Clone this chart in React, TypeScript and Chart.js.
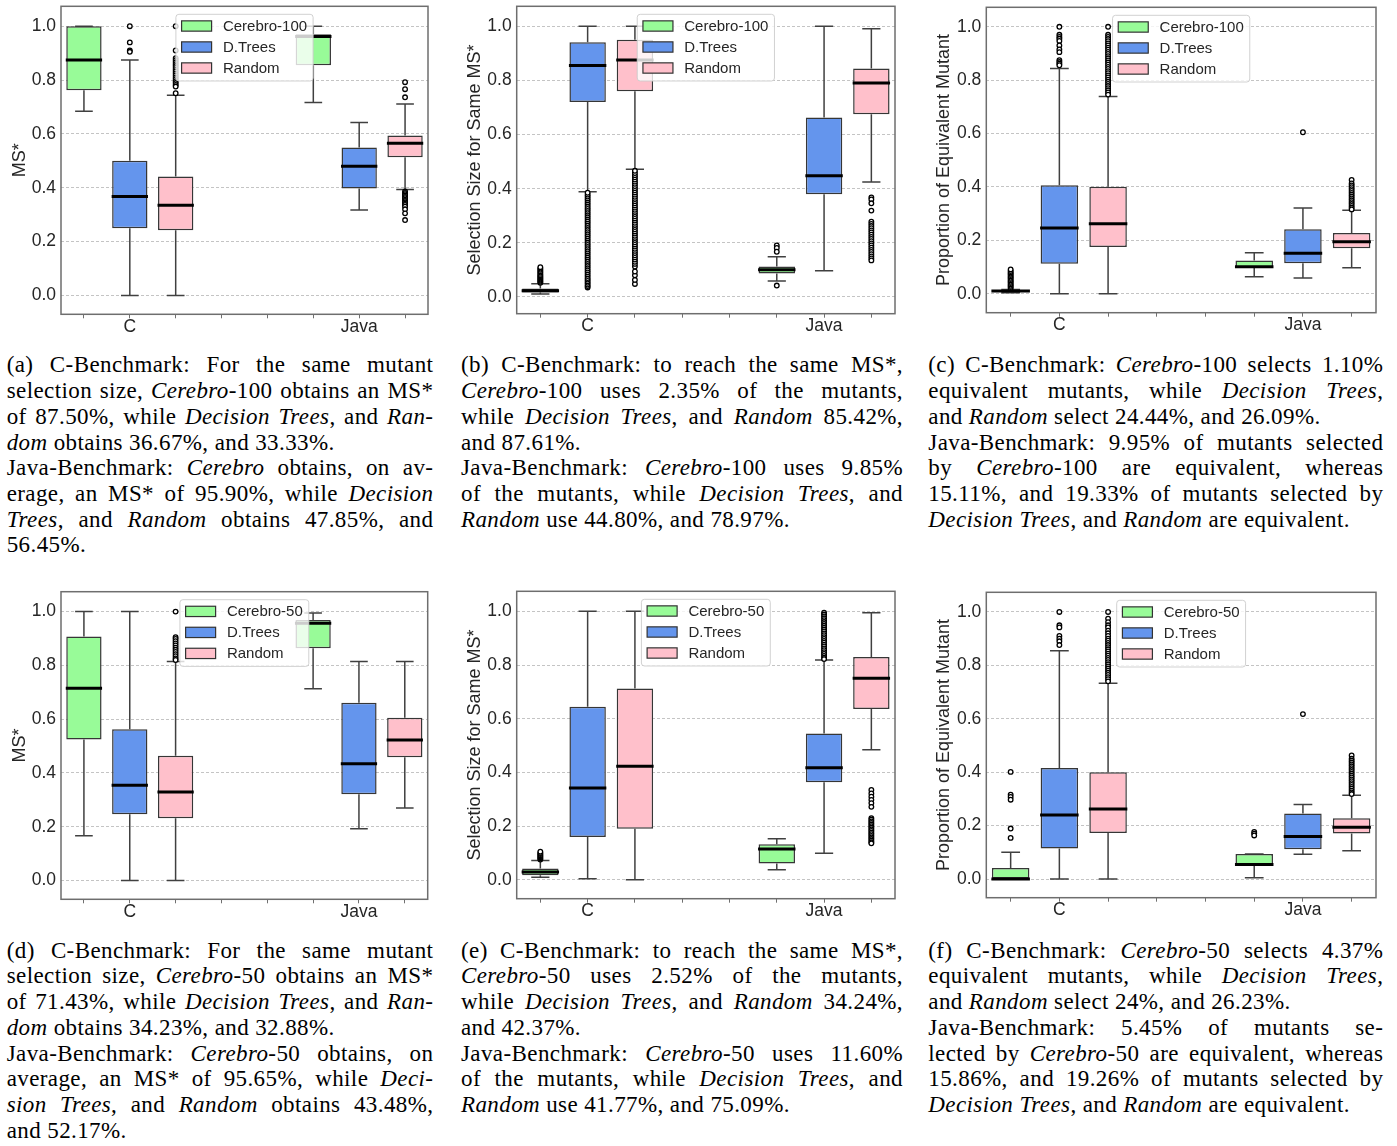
import React, { useEffect, useRef } from 'react';
import { Chart, registerables } from 'chart.js';

Chart.register(...registerables);
Chart.defaults.font.family = '"Liberation Sans", Arial, sans-serif';

// ---------- shared axes / categories ----------
const BOX_POSITIONS = [0, 1, 2, 5, 6, 7]; // C: Cerebro, D.Trees, Random | Java: Cerebro, D.Trees, Random
const X_TICK_POSITIONS = [0, 1, 2, 3, 4, 5, 6, 7];
const GROUP_LABELS = ['C', 'Java'];
const GROUP_TICK_POSITIONS = [1, 6];
const Y_TICKS = [0, 0.2, 0.4, 0.6, 0.8, 1.0];
const SERIES_100 = ['Cerebro-100', 'D.Trees', 'Random'];
const SERIES_50 = ['Cerebro-50', 'D.Trees', 'Random'];

// ---------- (a) MS*, Cerebro-100 ----------
const A_LOW = [0.684, 0.0, 0.0, 0.717, 0.317, 0.394];
const A_Q1 = [0.762, 0.25, 0.242, 0.855, 0.397, 0.513];
const A_MED = [0.875, 0.368, 0.335, 0.962, 0.48, 0.565];
const A_Q3 = [1.0, 0.5, 0.442, 0.97, 0.55, 0.594];
const A_HIGH = [1.0, 0.875, 0.744, 1.0, 0.642, 0.711];
const A_OUT = [
  [],
  [1.0, 0.94, 0.91, 0.905],
  [1.0, 0.91, 0.881, 0.874, 0.866, 0.859, 0.852, 0.845, 0.838, 0.831, 0.824, 0.817, 0.81, 0.803, 0.796, 0.789, 0.782, 0.776, 0.751],
  [],
  [],
  [0.792, 0.766, 0.736, 0.386, 0.381, 0.376, 0.371, 0.366, 0.361, 0.356, 0.351, 0.346, 0.341, 0.336, 0.33, 0.32, 0.305, 0.28],
];
const A_Y_RANGE = [-0.07, 1.074];

// ---------- (b) Selection size, Cerebro-100 ----------
const B_LOW = [0.011, 0.389, 0.472, 0.059, 0.097, 0.425];
const B_Q1 = [0.016, 0.72, 0.76, 0.087, 0.379, 0.675];
const B_MED = [0.023, 0.855, 0.876, 0.1, 0.448, 0.791];
const B_Q3 = [0.031, 0.941, 0.95, 0.112, 0.663, 0.844];
const B_HIGH = [0.049, 1.0, 1.0, 0.148, 1.0, 0.991];
const B_OUT = [
  [0.052, 0.056, 0.06, 0.064, 0.068, 0.072, 0.076, 0.08, 0.085, 0.09, 0.095, 0.1, 0.105, 0.11],
  [0.035, 0.04, 0.046, 0.052, 0.058, 0.064, 0.07, 0.077, 0.084, 0.091, 0.098, 0.105, 0.112, 0.119, 0.126, 0.133, 0.14, 0.147, 0.154, 0.161, 0.168, 0.175, 0.182, 0.189, 0.196, 0.203, 0.21, 0.217, 0.224, 0.231, 0.238, 0.245, 0.252, 0.259, 0.266, 0.273, 0.28, 0.287, 0.294, 0.301, 0.308, 0.315, 0.322, 0.329, 0.336, 0.343, 0.35, 0.357, 0.364, 0.371, 0.378, 0.385],
  [0.048, 0.063, 0.08, 0.094, 0.112, 0.122, 0.13, 0.138, 0.146, 0.154, 0.162, 0.17, 0.178, 0.186, 0.194, 0.202, 0.21, 0.218, 0.226, 0.234, 0.242, 0.25, 0.258, 0.266, 0.274, 0.282, 0.29, 0.298, 0.306, 0.314, 0.322, 0.33, 0.338, 0.346, 0.354, 0.362, 0.37, 0.378, 0.386, 0.394, 0.402, 0.41, 0.418, 0.426, 0.434, 0.442, 0.45, 0.458, 0.466],
  [0.19, 0.181, 0.167, 0.042],
  [],
  [0.368, 0.36, 0.346, 0.319, 0.278, 0.27, 0.262, 0.254, 0.246, 0.238, 0.23, 0.222, 0.214, 0.206, 0.198, 0.19, 0.182, 0.174, 0.166, 0.158, 0.15, 0.142, 0.135],
];
const B_Y_RANGE = [-0.062, 1.074];

// ---------- (c) Equivalent mutants, Cerebro-100 ----------
const C_LOW = [0.004, 0.0, 0.0, 0.064, 0.059, 0.097];
const C_Q1 = [0.007, 0.112, 0.175, 0.097, 0.114, 0.17];
const C_MED = [0.01, 0.246, 0.262, 0.101, 0.152, 0.195];
const C_Q3 = [0.014, 0.406, 0.401, 0.125, 0.242, 0.228];
const C_HIGH = [0.016, 0.844, 0.739, 0.154, 0.321, 0.313];
const C_OUT = [
  [0.02, 0.025, 0.03, 0.035, 0.04, 0.045, 0.05, 0.055, 0.06, 0.065, 0.07, 0.075, 0.08, 0.085, 0.091],
  [1.0, 0.97, 0.962, 0.955, 0.947, 0.93, 0.915, 0.905, 0.875, 0.868, 0.862, 0.856],
  [1.0, 0.97, 0.962, 0.954, 0.946, 0.938, 0.93, 0.922, 0.914, 0.906, 0.898, 0.89, 0.882, 0.874, 0.866, 0.858, 0.85, 0.842, 0.834, 0.826, 0.818, 0.81, 0.802, 0.794, 0.786, 0.778, 0.77, 0.762, 0.754, 0.746],
  [],
  [0.605],
  [0.426, 0.413, 0.406, 0.399, 0.392, 0.385, 0.378, 0.371, 0.364, 0.357, 0.35, 0.343, 0.336, 0.329, 0.322, 0.316],
];
const C_Y_RANGE = [-0.071, 1.073];

// ---------- (d) MS*, Cerebro-50 ----------
const D_LOW = [0.166, 0.0, 0.0, 0.713, 0.192, 0.27];
const D_Q1 = [0.524, 0.246, 0.231, 0.864, 0.321, 0.458];
const D_MED = [0.715, 0.354, 0.329, 0.957, 0.434, 0.522];
const D_Q3 = [0.907, 0.562, 0.464, 0.969, 0.661, 0.605];
const D_HIGH = [1.0, 1.0, 0.814, 0.995, 0.814, 0.814];
const D_OUT = [
  [],
  [],
  [1.0, 0.905, 0.898, 0.89, 0.882, 0.874, 0.866, 0.858, 0.85, 0.842, 0.834, 0.826, 0.82],
  [],
  [],
  [],
];
const D_Y_RANGE = [-0.07, 1.074];

// ---------- (e) Selection size, Cerebro-50 ----------
const E_LOW = [0.01, 0.004, 0.001, 0.038, 0.099, 0.485];
const E_Q1 = [0.017, 0.16, 0.19, 0.061, 0.364, 0.636];
const E_MED = [0.029, 0.342, 0.423, 0.115, 0.418, 0.751];
const E_Q3 = [0.042, 0.645, 0.713, 0.133, 0.545, 0.83];
const E_HIGH = [0.072, 1.0, 1.0, 0.153, 0.819, 0.995];
const E_OUT = [
  [0.076, 0.08, 0.084, 0.088, 0.092, 0.096, 0.1, 0.105],
  [],
  [],
  [],
  [0.995, 0.988, 0.981, 0.974, 0.967, 0.96, 0.953, 0.946, 0.939, 0.932, 0.925, 0.918, 0.911, 0.904, 0.897, 0.89, 0.883, 0.876, 0.869, 0.862, 0.855, 0.848, 0.841, 0.834, 0.827, 0.822],
  [0.335, 0.322, 0.31, 0.298, 0.286, 0.272, 0.23, 0.224, 0.218, 0.212, 0.206, 0.2, 0.194, 0.188, 0.182, 0.176, 0.17, 0.164, 0.158, 0.152, 0.146, 0.14, 0.136],
];
const E_Y_RANGE = [-0.07, 1.0745];

// ---------- (f) Equivalent mutants, Cerebro-50 ----------
const F_LOW = [0.0, 0.0, 0.0, 0.005, 0.0925, 0.106];
const F_Q1 = [0.0, 0.114, 0.1725, 0.054, 0.111, 0.17];
const F_MED = [0.0, 0.24, 0.2625, 0.054, 0.159, 0.194];
const F_Q3 = [0.041, 0.416, 0.4, 0.094, 0.245, 0.2275];
const F_HIGH = [0.1, 0.855, 0.7325, 0.094, 0.279, 0.314];
const F_OUT = [
  [0.401, 0.316, 0.307, 0.297, 0.189, 0.154],
  [1.0, 0.95, 0.942, 0.91, 0.9, 0.89, 0.876],
  [1.0, 0.975, 0.962, 0.95, 0.942, 0.93, 0.92, 0.91, 0.9, 0.892, 0.884, 0.876, 0.868, 0.86, 0.852, 0.844, 0.836, 0.828, 0.82, 0.812, 0.804, 0.796, 0.788, 0.78, 0.772, 0.764, 0.756, 0.748, 0.74],
  [0.176, 0.17, 0.163],
  [0.6175],
  [0.4625, 0.45, 0.443, 0.436, 0.429, 0.422, 0.415, 0.408, 0.401, 0.394, 0.387, 0.38, 0.373, 0.366, 0.359, 0.352, 0.345, 0.338, 0.331, 0.324, 0.318],
];
const F_Y_RANGE = [-0.07, 1.0735];

// ---------- captions (text; _x_ = italic) ----------
const CAPTION_A = [
  ['(a) C-Benchmark: For the same mutant', 'selection size, _Cerebro_-100 obtains an MS*', 'of 87.50%, while _Decision Trees_, and _Ran-_', '_dom_ obtains 36.67%, and 33.33%.'],
  ['Java-Benchmark: _Cerebro_ obtains, on av-', 'erage, an MS* of 95.90%, while _Decision_', '_Trees_, and _Random_ obtains 47.85%, and', '56.45%.'],
];
const CAPTION_B = [
  ['(b) C-Benchmark: to reach the same MS*,', '_Cerebro_-100 uses 2.35% of the mutants,', 'while _Decision Trees_, and _Random_ 85.42%,', 'and 87.61%.'],
  ['Java-Benchmark: _Cerebro_-100 uses 9.85%', 'of the mutants, while _Decision Trees_, and', '_Random_ use 44.80%, and 78.97%.'],
];
const CAPTION_C = [
  ['(c) C-Benchmark: _Cerebro_-100 selects 1.10%', 'equivalent mutants, while _Decision Trees_,', 'and _Random_ select 24.44%, and 26.09%.'],
  ['Java-Benchmark: 9.95% of mutants selected', 'by _Cerebro_-100 are equivalent, whereas', '15.11%, and 19.33% of mutants selected by', '_Decision Trees_, and _Random_ are equivalent.'],
];
const CAPTION_D = [
  ['(d) C-Benchmark: For the same mutant', 'selection size, _Cerebro_-50 obtains an MS*', 'of 71.43%, while _Decision Trees_, and _Ran-_', '_dom_ obtains 34.23%, and 32.88%.'],
  ['Java-Benchmark: _Cerebro_-50 obtains, on', 'average, an MS* of 95.65%, while _Deci-_', '_sion Trees_, and _Random_ obtains 43.48%,', 'and 52.17%.'],
];
const CAPTION_E = [
  ['(e) C-Benchmark: to reach the same MS*,', '_Cerebro_-50 uses 2.52% of the mutants,', 'while _Decision Trees_, and _Random_ 34.24%,', 'and 42.37%.'],
  ['Java-Benchmark: _Cerebro_-50 uses 11.60%', 'of the mutants, while _Decision Trees_, and', '_Random_ use 41.77%, and 75.09%.'],
];
const CAPTION_F = [
  ['(f) C-Benchmark: _Cerebro_-50 selects 4.37%', 'equivalent mutants, while _Decision Trees_,', 'and _Random_ select 24%, and 26.23%.'],
  ['Java-Benchmark: 5.45% of mutants se-', 'lected by _Cerebro_-50 are equivalent, whereas', '15.86%, and 19.26% of mutants selected by', '_Decision Trees_, and _Random_ are equivalent.'],
];

// ---------- styles ----------
const FILLS = ['#98FB98', '#6495ED', '#FFC0CB'];
const TEXT_COLOR = '#262626';

type Layout = { x: number; y: number; w: number; h: number; L: number; R: number; T: number; B: number; titlePad: number };

type PanelProps = {
  series: string[];
  low: number[];
  q1: number[];
  med: number[];
  q3: number[];
  high: number[];
  out: number[][];
  yRange: number[];
  yTitle: string;
  layout: Layout;
};

function BoxPanel(props: PanelProps) {
  const ref = useRef<HTMLCanvasElement | null>(null);
  const { layout: lay } = props;

  useEffect(() => {
    const { series, low, q1, med, q3, high, out, yRange, yTitle } = props;
    const canvas = ref.current;
    if (!canvas) return;

    const boxWidth = (chart: any, i: number) => {
      const el: any = chart.getDatasetMeta(i % 3).data[Math.floor(i / 3)];
      return el ? el.width : 30;
    };

    const extras = {
      id: 'boxExtras',
      beforeDatasetsDraw(chart: any) {
        const { ctx } = chart;
        const xs = chart.scales.x;
        const ys = chart.scales.y;
        ctx.save();
        ctx.strokeStyle = '#404040';
        ctx.lineWidth = 1.5;
        for (let i = 0; i < BOX_POSITIONS.length; i++) {
          const half = boxWidth(chart, i) / 2;
          const cx = xs.getPixelForValue(BOX_POSITIONS[i]);
          const yLow = ys.getPixelForValue(low[i]);
          const yHigh = ys.getPixelForValue(high[i]);
          const yQ1 = ys.getPixelForValue(q1[i]);
          const yQ3 = ys.getPixelForValue(q3[i]);
          ctx.beginPath();
          ctx.moveTo(cx, yQ1);
          ctx.lineTo(cx, yLow);
          ctx.moveTo(cx, yQ3);
          ctx.lineTo(cx, yHigh);
          ctx.moveTo(cx - half / 2, yLow);
          ctx.lineTo(cx + half / 2, yLow);
          ctx.moveTo(cx - half / 2, yHigh);
          ctx.lineTo(cx + half / 2, yHigh);
          ctx.stroke();
        }
        ctx.restore();
      },
      afterDatasetsDraw(chart: any) {
        const { ctx, chartArea } = chart;
        const xs = chart.scales.x;
        const ys = chart.scales.y;
        ctx.save();
        ctx.strokeStyle = '#000';
        ctx.lineWidth = 3;
        for (let i = 0; i < BOX_POSITIONS.length; i++) {
          const half = boxWidth(chart, i) / 2;
          const cx = xs.getPixelForValue(BOX_POSITIONS[i]);
          const yMed = ys.getPixelForValue(med[i]);
          ctx.beginPath();
          ctx.moveTo(cx - half - 0.5, yMed);
          ctx.lineTo(cx + half + 0.5, yMed);
          ctx.stroke();
        }
        // legend (upper center, semi-transparent)
        ctx.font = '15px "Liberation Sans", Arial, sans-serif';
        let tw = 0;
        series.forEach((s) => { tw = Math.max(tw, ctx.measureText(s).width); });
        const padL = 5.7, hw = 30, hh = 10.3, gap = 11.3, padR = 6;
        const w = padL + hw + gap + tw + padR;
        const h = 66.7;
        const lx = (chartArea.left + chartArea.right) / 2 - w / 2;
        const ly = chartArea.top + 8;
        ctx.beginPath();
        if (ctx.roundRect) ctx.roundRect(lx, ly, w, h, 3); else ctx.rect(lx, ly, w, h);
        ctx.fillStyle = 'rgba(255,255,255,0.8)';
        ctx.fill();
        ctx.strokeStyle = 'rgba(204,204,204,0.9)';
        ctx.lineWidth = 1;
        ctx.stroke();
        series.forEach((s, k) => {
          const cy = ly + 11.7 + k * 21;
          ctx.fillStyle = FILLS[k];
          ctx.fillRect(lx + padL, cy - hh / 2, hw, hh);
          ctx.strokeStyle = '#333';
          ctx.lineWidth = 1.2;
          ctx.strokeRect(lx + padL, cy - hh / 2, hw, hh);
          ctx.fillStyle = TEXT_COLOR;
          ctx.textBaseline = 'middle';
          ctx.textAlign = 'left';
          ctx.fillText(s, lx + padL + hw + gap, cy + 0.5);
        });
        ctx.restore();
      },
      afterDraw(chart: any) {
        const { ctx, chartArea } = chart;
        ctx.save();
        ctx.strokeStyle = '#6e6e6e';
        ctx.lineWidth = 1.5;
        ctx.strokeRect(chartArea.left, chartArea.top, chartArea.right - chartArea.left, chartArea.bottom - chartArea.top);
        ctx.restore();
      },
    };

    const boxDatasets = series.map((name, s) => ({
      type: 'bar' as const,
      label: name,
      data: GROUP_LABELS.map((_, g) => ({ x: BOX_POSITIONS[g * 3 + s], y: [q1[g * 3 + s], q3[g * 3 + s]] })),
      backgroundColor: FILLS[s],
      borderColor: '#363636',
      borderWidth: 1.5,
      borderSkipped: false,
      grouped: false,
      categoryPercentage: 1,
      barPercentage: 0.77,
      order: 2,
    }));

    const outlierPoints: { x: number; y: number }[] = [];
    out.forEach((vals, i) => vals.forEach((v) => outlierPoints.push({ x: BOX_POSITIONS[i], y: v })));

    const chart = new Chart(canvas, {
      type: 'bar',
      data: {
        datasets: [
          ...boxDatasets,
          {
            type: 'scatter' as const,
            label: 'outliers',
            data: outlierPoints,
            pointRadius: 2.3,
            pointBorderWidth: 1.3,
            pointBackgroundColor: '#ffffff',
            pointBorderColor: '#000000',
            order: 1,
          } as any,
        ],
      },
      options: {
        responsive: false,
        maintainAspectRatio: false,
        animation: false,
        devicePixelRatio: 1,
        events: [],
        layout: {
          padding: { left: 0, top: lay.T - lay.y, right: lay.x + lay.w - lay.R, bottom: 0 },
        },
        plugins: { legend: { display: false }, tooltip: { enabled: false } },
        scales: {
          x: {
            type: 'linear',
            min: -0.5,
            max: 7.5,
            offset: false,
            afterBuildTicks: (s: any) => { s.ticks = X_TICK_POSITIONS.map((v) => ({ value: v })); },
            afterFit: (s: any) => {
              s.height = lay.y + lay.h - lay.B;
              s.paddingLeft = 0;
              s.paddingRight = 0;
              s.paddingTop = 0;
              s.paddingBottom = 0;
            },
            grid: { display: true, offset: false, drawOnChartArea: false, drawTicks: true, tickLength: 4, color: '#707070', lineWidth: 1 },
            border: { display: false },
            ticks: {
              autoSkip: false,
              maxRotation: 0,
              padding: -2,
              color: TEXT_COLOR,
              font: { size: 17.5 },
              callback: (v: any) => {
                const k = GROUP_TICK_POSITIONS.indexOf(Number(v));
                return k >= 0 ? GROUP_LABELS[k] : '';
              },
            },
          },
          y: {
            type: 'linear',
            min: yRange[0],
            max: yRange[1],
            afterBuildTicks: (s: any) => { s.ticks = Y_TICKS.map((v) => ({ value: v })); },
            afterFit: (s: any) => {
              s.width = lay.L - lay.x;
              s.paddingTop = 0;
              s.paddingBottom = 0;
              s.paddingLeft = 0;
              s.paddingRight = 0;
            },
            grid: { display: true, drawOnChartArea: true, drawTicks: false, color: '#c4c4c4', lineWidth: 1 },
            border: { display: false, dash: [3, 2] },
            ticks: {
              padding: 5,
              color: TEXT_COLOR,
              font: { size: 17.5 },
              callback: (v: any) => Number(v).toFixed(1),
            },
            title: {
              display: true,
              text: yTitle,
              color: TEXT_COLOR,
              font: { size: 18 },
              padding: { top: lay.titlePad, bottom: 0 },
            },
          },
        },
      } as any,
      plugins: [extras as any],
    });
    return () => chart.destroy();
  }, []);

  return (
    <canvas
      ref={ref}
      width={lay.w}
      height={lay.h}
      style={{ position: 'absolute', left: lay.x, top: lay.y, width: lay.w, height: lay.h }}
    />
  );
}

function renderLine(line: string) {
  return line.split('_').map((part, i) => (i % 2 === 1 ? <i key={i}>{part}</i> : <span key={i}>{part}</span>));
}

function Caption({ left, top, width, paras }: { left: number; top: number; width: number; paras: string[][] }) {
  return (
    <div
      style={{
        position: 'absolute',
        left,
        top,
        width,
        fontFamily: '"Liberation Serif", "Times New Roman", serif',
        fontSize: 23,
        letterSpacing: '0.4px',
        lineHeight: '25.7px',
        color: '#000',
      }}
    >
      {paras.map((p, pi) =>
        p.map((line, li) => {
          const last = li === p.length - 1;
          return (
            <div
              key={pi + '-' + li}
              style={{ textAlign: last ? 'left' : 'justify', textAlignLast: last ? 'left' : 'justify' } as any}
            >
              {renderLine(line)}
            </div>
          );
        })
      )}
    </div>
  );
}

const LAYOUT_A: Layout = { x: 0, y: 0, w: 440, h: 340, L: 61, R: 428, T: 6.3, B: 314.3, titlePad: 9 };
const LAYOUT_B: Layout = { x: 455, y: 0, w: 450, h: 340, L: 516.7, R: 895, T: 6.3, B: 313.7, titlePad: 9 };
const LAYOUT_C: Layout = { x: 920, y: 0, w: 477, h: 340, L: 986.3, R: 1376, T: 7.3, B: 312.7, titlePad: 13 };
const LAYOUT_D: Layout = { x: 0, y: 585, w: 440, h: 340, L: 61, R: 427.7, T: 591.7, B: 899.3, titlePad: 9 };
const LAYOUT_E: Layout = { x: 455, y: 585, w: 450, h: 340, L: 516.7, R: 895, T: 591.3, B: 898.7, titlePad: 9 };
const LAYOUT_F: Layout = { x: 920, y: 585, w: 477, h: 340, L: 986.3, R: 1376, T: 592.3, B: 897.7, titlePad: 13 };

export default function App() {
  return (
    <div style={{ position: 'absolute', left: 0, top: 0, width: 1397, height: 1146, background: '#fff', overflow: 'hidden' }}>
      <BoxPanel series={SERIES_100} low={A_LOW} q1={A_Q1} med={A_MED} q3={A_Q3} high={A_HIGH} out={A_OUT} yRange={A_Y_RANGE} yTitle="MS*" layout={LAYOUT_A} />
      <BoxPanel series={SERIES_100} low={B_LOW} q1={B_Q1} med={B_MED} q3={B_Q3} high={B_HIGH} out={B_OUT} yRange={B_Y_RANGE} yTitle="Selection Size for Same MS*" layout={LAYOUT_B} />
      <BoxPanel series={SERIES_100} low={C_LOW} q1={C_Q1} med={C_MED} q3={C_Q3} high={C_HIGH} out={C_OUT} yRange={C_Y_RANGE} yTitle="Proportion of Equivalent Mutant" layout={LAYOUT_C} />
      <BoxPanel series={SERIES_50} low={D_LOW} q1={D_Q1} med={D_MED} q3={D_Q3} high={D_HIGH} out={D_OUT} yRange={D_Y_RANGE} yTitle="MS*" layout={LAYOUT_D} />
      <BoxPanel series={SERIES_50} low={E_LOW} q1={E_Q1} med={E_MED} q3={E_Q3} high={E_HIGH} out={E_OUT} yRange={E_Y_RANGE} yTitle="Selection Size for Same MS*" layout={LAYOUT_E} />
      <BoxPanel series={SERIES_50} low={F_LOW} q1={F_Q1} med={F_MED} q3={F_Q3} high={F_HIGH} out={F_OUT} yRange={F_Y_RANGE} yTitle="Proportion of Equivalent Mutant" layout={LAYOUT_F} />
      <Caption left={6.7} top={352.4} width={426.7} paras={CAPTION_A} />
      <Caption left={461} top={352.4} width={442} paras={CAPTION_B} />
      <Caption left={928.3} top={352.4} width={455} paras={CAPTION_C} />
      <Caption left={6.7} top={937.7} width={426.7} paras={CAPTION_D} />
      <Caption left={461} top={937.7} width={442} paras={CAPTION_E} />
      <Caption left={928.3} top={937.7} width={455} paras={CAPTION_F} />
    </div>
  );
}
